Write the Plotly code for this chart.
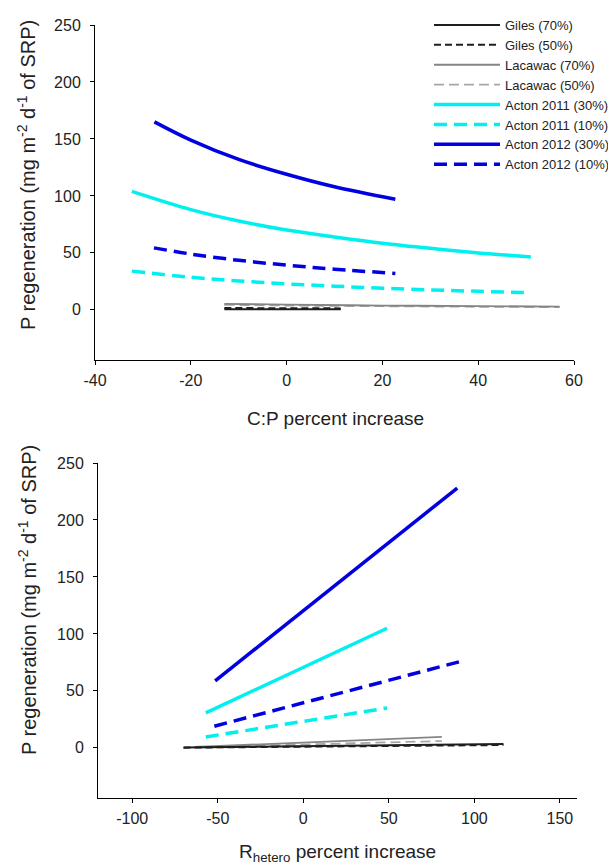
import plotly.graph_objects as go

# ---- data ----
names = ["Giles (70%)", "Giles (50%)", "Lacawac (70%)", "Lacawac (50%)",
         "Acton 2011 (30%)", "Acton 2011 (10%)", "Acton 2012 (30%)", "Acton 2012 (10%)"]

# top panel: C:P percent increase
cp_giles70_x = [-13, 11.3]
cp_giles70_y = [0.6, 0.5]
cp_giles50_x = [-13, 11.3]
cp_giles50_y = [1.6, 1.3]
cp_lac70_x = [-13, 0, 20, 40, 57]
cp_lac70_y = [5.3, 4.6, 3.8, 3.3, 2.9]
cp_lac50_x = [-13, 0, 20, 40, 57]
cp_lac50_y = [4.4, 3.8, 3.2, 2.7, 2.4]
cp_a11_30_x = [-32.3, -20, -10, 0, 10, 20, 30, 40, 51]
cp_a11_30_y = [104, 88, 78, 70, 64, 58.5, 54, 50, 46.5]
cp_a11_10_x = [-32.3, -20, -10, 0, 10, 20, 30, 40, 51]
cp_a11_10_y = [34, 28.6, 25.4, 22.8, 20.8, 19, 17.5, 16.3, 15]
cp_a12_30_x = [-27.6, -20, -10, 0, 10, 22.7]
cp_a12_30_y = [165, 149, 132, 119, 108, 97]
cp_a12_10_x = [-27.7, -20, -10, 0, 10, 22.7]
cp_a12_10_y = [54.4, 49, 43.5, 39.3, 35.7, 32]

# bottom panel: R_hetero percent increase
rh_giles70_x = [-70, 117]
rh_giles70_y = [0.3, 3.5]
rh_giles50_x = [-70, 117]
rh_giles50_y = [0.2, 2.5]
rh_lac70_x = [-63, 81]
rh_lac70_y = [0.8, 9.6]
rh_lac50_x = [-63, 81]
rh_lac50_y = [0.5, 6.0]
rh_a11_30_x = [-57, 49]
rh_a11_30_y = [30.7, 105]
rh_a11_10_x = [-57, 49]
rh_a11_10_y = [9.6, 35]
rh_a12_30_x = [-51.5, 90]
rh_a12_30_y = [58.8, 228]
rh_a12_10_x = [-52, 91]
rh_a12_10_y = [19, 75.5]

x_top_ticks = [-40, -20, 0, 20, 40, 60]
x_top_labels = ["-40", "-20", "0", "20", "40", "60"]
x_bot_ticks = [-100, -50, 0, 50, 100, 150]
x_bot_labels = ["-100", "-50", "0", "50", "100", "150"]
y_ticks = [0, 50, 100, 150, 200, 250]
y_labels = ["0", "50", "100", "150", "200", "250"]

# ---- styles ----
BLACK = "#1e1e1e"
GREY1 = "#858585"
GREY2 = "#a6a6a6"
CYAN = "#00f0f0"
BLUE = "#0000e0"
styles = [
    dict(color=BLACK, width=2, dash="solid"),
    dict(color=BLACK, width=2, dash="7px,4px"),
    dict(color=GREY1, width=1.8, dash="solid"),
    dict(color=GREY2, width=1.8, dash="10px,5px"),
    dict(color=CYAN, width=3.5, dash="solid"),
    dict(color=CYAN, width=3.5, dash="13px,7px"),
    dict(color=BLUE, width=3.5, dash="solid"),
    dict(color=BLUE, width=3.5, dash="13px,7px"),
]

top = [(cp_giles70_x, cp_giles70_y), (cp_giles50_x, cp_giles50_y),
       (cp_lac70_x, cp_lac70_y), (cp_lac50_x, cp_lac50_y),
       (cp_a11_30_x, cp_a11_30_y), (cp_a11_10_x, cp_a11_10_y),
       (cp_a12_30_x, cp_a12_30_y), (cp_a12_10_x, cp_a12_10_y)]
bot = [(rh_giles70_x, rh_giles70_y), (rh_giles50_x, rh_giles50_y),
       (rh_lac70_x, rh_lac70_y), (rh_lac50_x, rh_lac50_y),
       (rh_a11_30_x, rh_a11_30_y), (rh_a11_10_x, rh_a11_10_y),
       (rh_a12_30_x, rh_a12_30_y), (rh_a12_10_x, rh_a12_10_y)]

fig = go.Figure()
for i in [3, 2, 1, 0, 5, 4, 7, 6]:
    x, y = top[i]
    fig.add_trace(go.Scatter(x=x, y=y, mode="lines", name=names[i],
                             line=dict(shape="spline", **styles[i]),
                             legendrank=i + 1, xaxis="x", yaxis="y"))
for i in [3, 2, 1, 0, 5, 4, 7, 6]:
    x, y = bot[i]
    fig.add_trace(go.Scatter(x=x, y=y, mode="lines", name=names[i],
                             line=styles[i], showlegend=False,
                             xaxis="x2", yaxis="y2"))

W, H = 616, 866
OFF = 8  # default page body margin


def px(p):
    return (p - OFF) / W


def py(p):
    return 1 - (p - OFF) / H


FONT = "Liberation Sans, Arial, sans-serif"
TXT = "#222"
axis_common = dict(showline=True, linecolor="black", linewidth=1, ticks="outside",
                   ticklen=4, tickcolor="black", showgrid=False, zeroline=False,
                   automargin=False,
                   tickfont=dict(size=16, color=TXT, family=FONT))

fig.update_layout(
    width=W, height=H,
    margin=dict(l=0, r=0, t=0, b=0, pad=0, autoexpand=False),
    paper_bgcolor="white", plot_bgcolor="white",
    font=dict(family=FONT, color=TXT),
    xaxis=dict(domain=[px(95), px(574)], range=[-40, 60], tickvals=x_top_ticks,
               ticktext=x_top_labels, anchor="y", ticklabelstandoff=2, **axis_common),
    yaxis=dict(domain=[py(360), py(25)], range=[-44, 250], tickvals=y_ticks,
               ticktext=y_labels, anchor="x", ticklabelstandoff=6, **axis_common),
    xaxis2=dict(domain=[px(98), px(577)], range=[-120, 160], tickvals=x_bot_ticks,
                ticktext=x_bot_labels, anchor="y2", ticklabelstandoff=2, **axis_common),
    yaxis2=dict(domain=[py(798), py(463)], range=[-44, 250], tickvals=y_ticks,
                ticktext=y_labels, anchor="x2", ticklabelstandoff=6, **axis_common),
    legend=dict(x=px(429), y=py(10), xanchor="left", yanchor="top",
                font=dict(size=13, family=FONT, color=TXT),
                itemwidth=66, tracegroupgap=0, bgcolor="rgba(0,0,0,0)"),
    annotations=[
        dict(text="P regeneration (mg m<sup>-2</sup> d<sup>-1</sup> of SRP)", textangle=-90,
             x=px(26), y=py(175), xref="paper", yref="paper", showarrow=False,
             xanchor="center", yanchor="middle",
             font=dict(size=20, family=FONT, color=TXT)),
        dict(text="P regeneration (mg m<sup>-2</sup> d<sup>-1</sup> of SRP)", textangle=-90,
             x=px(27), y=py(600), xref="paper", yref="paper", showarrow=False,
             xanchor="center", yanchor="middle",
             font=dict(size=20, family=FONT, color=TXT)),
        dict(text="C:P percent increase", x=px(335), y=py(418), xref="paper",
             yref="paper", showarrow=False, xanchor="center", yanchor="middle",
             font=dict(size=19, family=FONT, color=TXT)),
        dict(text="R<sub>hetero</sub> percent increase", x=px(337), y=py(853),
             xref="paper", yref="paper", showarrow=False, xanchor="center", yanchor="middle",
             font=dict(size=19, family=FONT, color=TXT)),
    ],
)

fig.write_html("out.html")
